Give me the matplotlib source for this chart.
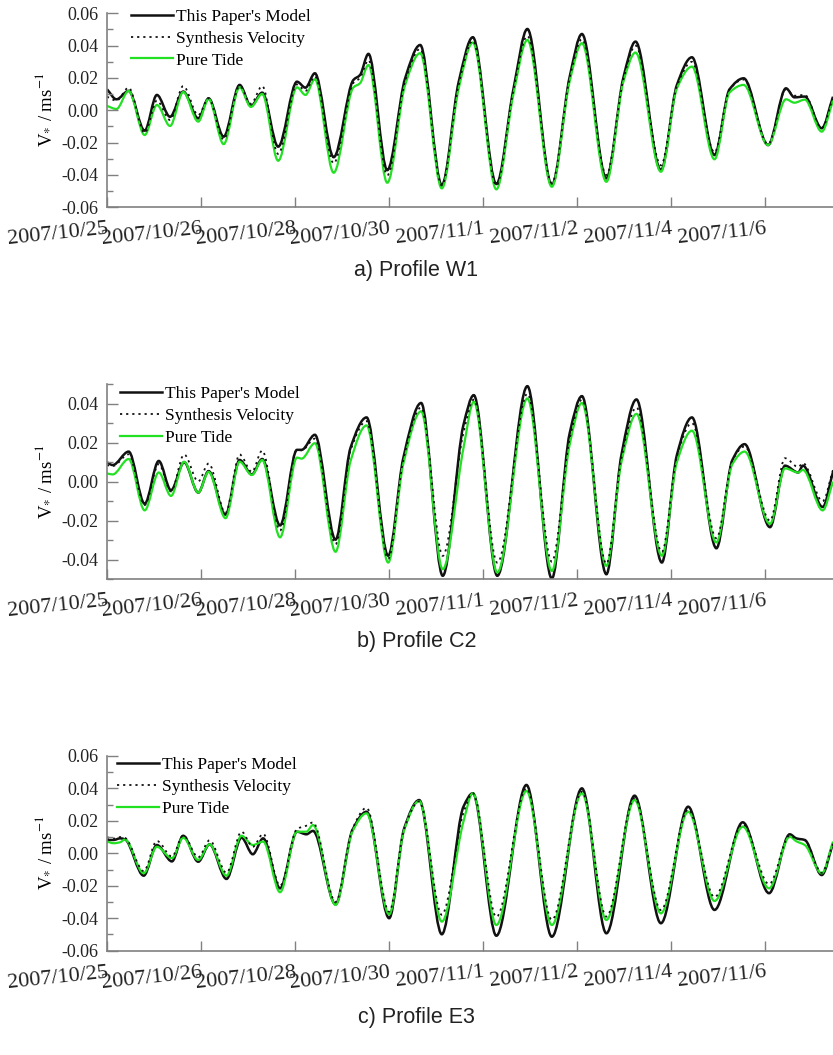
import numpy as np
import matplotlib
matplotlib.use("Agg")
import matplotlib.pyplot as plt
from matplotlib.path import Path
from matplotlib.patches import PathPatch
from matplotlib.lines import Line2D
from matplotlib.ticker import FixedLocator, FixedFormatter

plt.rcParams['font.family'] = ['Liberation Serif', 'DejaVu Serif']
plt.rcParams['mathtext.fontset'] = 'stix'
plt.rcParams['axes.unicode_minus'] = False

# x positions in tick units (0 = 2007/10/25 tick, 7 = 2007/11/6 tick)
date_labels = ['2007/10/25', '2007/10/26', '2007/10/28', '2007/10/30',
               '2007/11/1', '2007/11/2', '2007/11/4', '2007/11/6']
series_names = ["This Paper's Model", "Synthesis Velocity", "Pure Tide"]

# ---- a) Profile W1 ----
t_w1 = [0.00, 0.10, 0.23, 0.40, 0.53, 0.67, 0.81, 0.97, 1.08, 1.24, 1.41, 1.53, 1.65, 1.82,
        2.02, 2.11, 2.21, 2.41, 2.62, 2.69, 2.78, 2.98, 3.17, 3.33, 3.56, 3.74, 3.89, 4.14,
        4.32, 4.47, 4.73, 4.92, 5.05, 5.31, 5.49, 5.62, 5.89, 6.06, 6.22, 6.46, 6.62, 6.77,
        7.03, 7.22, 7.31, 7.42, 7.60, 7.72]
model_w1 = [0.013, 0.0068, 0.012, -0.0126, 0.0095, -0.004, 0.0116, -0.005, 0.0074, -0.0163,
            0.0157, 0.0027, 0.0109, -0.0225, 0.0177, 0.014, 0.0229, -0.029, 0.0188, 0.0218,
            0.0349, -0.037, 0.0198, 0.0404, -0.0462, 0.0177, 0.0452, -0.0456, 0.0126, 0.0503,
            -0.0462, 0.0208, 0.0472, -0.0421, 0.020, 0.0425, -0.037, 0.0157, 0.0328, -0.0277,
            0.013, 0.0198, -0.0215, 0.0136, 0.008, 0.0085, -0.0111, 0.0084]
synth_w1 = [0.0084, 0.006, 0.014, -0.014, 0.006, -0.006, 0.015, -0.003, 0.0074, -0.018,
            0.015, 0.004, 0.015, -0.027, 0.016, 0.012, 0.021, -0.0328, 0.017, 0.020,
            0.031, -0.0402, 0.018, 0.038, -0.0465, 0.016, 0.043, -0.0465, 0.012, 0.046,
            -0.045, 0.020, 0.044, -0.040, 0.019, 0.040, -0.034, 0.015, 0.030, -0.026,
            0.013, 0.019, -0.021, 0.013, 0.009, 0.0095, -0.011, 0.008]
tide_w1 = [0.0027, 0.0008, 0.012, -0.0153, 0.0033, -0.0097, 0.0113, -0.007, 0.007, -0.0209,
           0.0142, 0.0021, 0.0101, -0.0312, 0.0142, 0.0095, 0.0192, -0.0386, 0.0142, 0.0167,
           0.028, -0.0448, 0.0157, 0.0353, -0.0483, 0.0136, 0.0419, -0.0489, 0.0095, 0.0435,
           -0.0473, 0.018, 0.0415, -0.0442, 0.0175, 0.0357, -0.038, 0.0136, 0.027, -0.0303,
           0.011, 0.0157, -0.0215, 0.0068, 0.0047, 0.0066, -0.0132, 0.006]

# ---- b) Profile C2 ----
t_c2 = [0.00, 0.06, 0.23, 0.40, 0.55, 0.68, 0.82, 0.97, 1.08, 1.26, 1.41, 1.54, 1.65, 1.84,
        2.02, 2.07, 2.21, 2.43, 2.59, 2.76, 2.99, 3.15, 3.34, 3.57, 3.79, 3.90, 4.15, 4.47,
        4.73, 4.92, 5.05, 5.31, 5.47, 5.63, 5.90, 6.06, 6.22, 6.48, 6.65, 6.78, 7.05, 7.21,
        7.35, 7.40, 7.61, 7.72]
model_c2 = [0.0099, 0.0085, 0.0154, -0.0113, 0.0106, -0.0044, 0.0099, -0.0056, 0.0054, -0.0169,
            0.0111, 0.0037, 0.0116, -0.0224, 0.0163, 0.0163, 0.024, -0.0297, 0.0175, 0.0329,
            -0.0379, 0.012, 0.0403, -0.0482, 0.029, 0.0443, -0.0482, 0.0489, -0.0496, 0.0249,
            0.0438, -0.0474, 0.0137, 0.0421, -0.0414, 0.0137, 0.0329, -0.0341, 0.0111, 0.0192,
            -0.0233, 0.0082, 0.0047, 0.0082, -0.013, 0.005]
synth_c2 = [0.0085, 0.008, 0.014, -0.012, 0.009, -0.005, 0.0139, 0.0001, 0.0093, -0.016,
            0.0139, 0.005, 0.0159, -0.025, 0.0163, 0.016, 0.022, -0.032, 0.016, 0.031,
            -0.0395, 0.011, 0.038, -0.038, 0.025, 0.042, -0.0415, 0.045, -0.041, 0.022,
            0.042, -0.042, 0.012, 0.038, -0.036, 0.013, 0.030, -0.029, 0.011, 0.018,
            -0.020, 0.012, 0.0075, 0.0095, -0.010, 0.006]
tide_c2 = [0.0042, 0.0037, 0.0116, -0.0147, 0.0047, -0.0073, 0.0102, -0.0056, 0.005, -0.0187,
           0.0102, 0.0034, 0.0111, -0.0285, 0.0123, 0.0118, 0.0197, -0.0359, 0.0106, 0.0288,
           -0.0414, 0.009, 0.036, -0.0448, 0.0171, 0.0409, -0.0465, 0.0426, -0.0457, 0.019,
           0.0403, -0.0431, 0.010, 0.0347, -0.0379, 0.010, 0.0261, -0.0311, 0.009, 0.0154,
           -0.0216, 0.0068, 0.0047, 0.006, -0.0147, 0.0]

# ---- c) Profile E3 ----
t_e3 = [0.00, 0.07, 0.14, 0.19, 0.39, 0.53, 0.69, 0.81, 0.97, 1.09, 1.27, 1.43, 1.55, 1.66,
        1.84, 2.02, 2.12, 2.19, 2.43, 2.61, 2.76, 3.00, 3.16, 3.32, 3.56, 3.79, 3.89, 4.14,
        4.46, 4.73, 5.05, 5.31, 5.61, 5.89, 6.18, 6.46, 6.76, 7.04, 7.26, 7.33, 7.42, 7.60,
        7.72]
model_e3 = [0.0082, 0.0082, 0.0092, 0.0086, -0.0138, 0.0051, -0.005, 0.0108, -0.0052, 0.0055,
            -0.0158, 0.0096, -0.0006, 0.0092, -0.0216, 0.0133, 0.0117, 0.0138, -0.0314, 0.0144,
            0.0256, -0.040, 0.0154, 0.0328, -0.0499, 0.0287, 0.037, -0.0508, 0.0421, -0.0514,
            0.040, -0.0493, 0.0355, -0.0431, 0.0287, -0.0349, 0.0191, -0.0246, 0.0117, 0.0092,
            0.0082, -0.0134, 0.0061]
synth_e3 = [0.0099, 0.009, 0.010, 0.0095, -0.011, 0.0076, -0.002, 0.011, -0.0025, 0.008,
            -0.012, 0.0133, 0.004, 0.012, -0.020, 0.015, 0.017, 0.019, -0.030, 0.015,
            0.028, -0.036, 0.015, 0.032, -0.0379, 0.025, 0.037, -0.0392, 0.040, -0.041,
            0.038, -0.039, 0.034, -0.035, 0.027, -0.027, 0.018, -0.019, 0.011, 0.009,
            0.008, -0.012, 0.006]
tide_e3 = [0.0072, 0.0062, 0.0068, 0.0085, -0.0123, 0.004, -0.003, 0.0096, -0.0041, 0.0055,
           -0.0138, 0.0108, 0.0051, 0.0072, -0.024, 0.0133, 0.0133, 0.0174, -0.0318, 0.0135,
           0.0246, -0.0376, 0.0144, 0.0322, -0.0421, 0.0195, 0.037, -0.0442, 0.0384, -0.0442,
           0.037, -0.0411, 0.0328, -0.037, 0.0256, -0.0294, 0.0164, -0.0216, 0.0102, 0.0074,
           0.0051, -0.0123, 0.0072]

captions = ['a) Profile W1', 'b) Profile C2', 'c) Profile E3']
ticks_wide = [-0.06, -0.04, -0.02, 0.00, 0.02, 0.04, 0.06]
ticks_narrow = [-0.04, -0.02, 0.00, 0.02, 0.04]

BLACK = '#111111'
GREEN = '#22e022'
AXC = '#808080'


def smooth_path(x, y):
    # monotone cubic (pchip-like) bezier through the read points
    x = np.asarray(x, float)
    y = np.asarray(y, float)
    h = np.diff(x)
    d = np.diff(y) / h
    m = np.zeros_like(y)
    for i in range(1, len(y) - 1):
        if d[i - 1] * d[i] > 0:
            w1 = 2 * h[i] + h[i - 1]
            w2 = h[i] + 2 * h[i - 1]
            m[i] = (w1 + w2) / (w1 / d[i - 1] + w2 / d[i])
    m[0] = d[0]
    m[-1] = d[-1]
    verts = [(x[0], y[0])]
    codes = [Path.MOVETO]
    for i in range(len(h)):
        verts.append((x[i] + h[i] / 3, y[i] + m[i] * h[i] / 3))
        verts.append((x[i + 1] - h[i] / 3, y[i + 1] - m[i + 1] * h[i] / 3))
        verts.append((x[i + 1], y[i + 1]))
        codes += [Path.CURVE4] * 3
    return Path(verts, codes)


fig = plt.figure(figsize=(8.33, 10.55), dpi=100)

panels = [
    (t_w1, model_w1, synth_w1, tide_w1, [0.1285, 0.8035, 0.8715, 0.1839], (-0.06, 0.06), ticks_wide, (0.033, 1.024)),
    (t_c2, model_c2, synth_c2, tide_c2, [0.1285, 0.4509, 0.8715, 0.1851], (-0.05, 0.05), ticks_narrow, (0.018, 0.990)),
    (t_e3, model_e3, synth_e3, tide_e3, [0.1285, 0.0989, 0.8715, 0.1846], (-0.06, 0.06), ticks_wide, (0.014, 0.993)),
]
caption_y = [0.744, 0.3915, 0.036]

for k, (t, model, synth, tide, rect, ylim, yt, leg_pos) in enumerate(panels):
    ax = fig.add_axes(rect)
    ax.add_patch(PathPatch(smooth_path(t, model), fill=False, edgecolor=BLACK, lw=1.8))
    ax.add_patch(PathPatch(smooth_path(t, tide), fill=False, edgecolor=GREEN, lw=1.6))
    ax.add_patch(PathPatch(smooth_path(t, synth), fill=False, edgecolor=BLACK, lw=1.3,
                           linestyle=(0, (1.2, 2.2))))
    ax.set_xlim(0, 7.72)
    ax.set_ylim(*ylim)

    for s in ['top', 'right']:
        ax.spines[s].set_visible(False)
    for s in ['left', 'bottom']:
        ax.spines[s].set_color(AXC)
        ax.spines[s].set_linewidth(1.2)

    ax.yaxis.set_major_locator(FixedLocator(yt))
    ax.yaxis.set_major_formatter(FixedFormatter(['%.2f' % v for v in yt]))
    minor = [v + 0.01 for v in yt[:-1]]
    if ylim[0] < yt[0]:
        minor = [yt[0] - 0.01] + minor + [yt[-1] + 0.01]
    ax.yaxis.set_minor_locator(FixedLocator(minor))

    ax.set_xticks(range(len(date_labels)))
    ax.set_xticklabels(date_labels, rotation=6, ha='right', va='top',
                       rotation_mode='anchor', fontsize=16)
    ax.tick_params(axis='both', which='both', direction='in', color=AXC, width=1.0)
    ax.tick_params(axis='y', which='major', length=8, labelsize=13, pad=6, labelcolor='#222222')
    ax.tick_params(axis='y', which='minor', length=4)
    ax.tick_params(axis='x', which='major', length=7, pad=9, labelcolor='#222222')

    ax.set_ylabel(r'V$_{*}$ / ms$^{-1}$', fontsize=13.5)
    ax.yaxis.label.set_va('center')
    ax.yaxis.set_label_coords(-0.086, 0.5)

    handles = [Line2D([], [], color=BLACK, lw=1.8),
               Line2D([], [], color=BLACK, lw=1.3, linestyle=(0, (1.2, 2.2))),
               Line2D([], [], color=GREEN, lw=1.6)]
    ax.legend(handles, series_names, loc='upper left', bbox_to_anchor=leg_pos,
              frameon=False, fontsize=12.5, borderpad=0, borderaxespad=0,
              handlelength=2.4, handletextpad=0.2, labelspacing=0.33)

    fig.text(0.5, caption_y[k], captions[k], ha='center', va='center',
             fontsize=15.5, family='Liberation Sans', color='#222222')

fig.savefig('out.png', dpi=100)
